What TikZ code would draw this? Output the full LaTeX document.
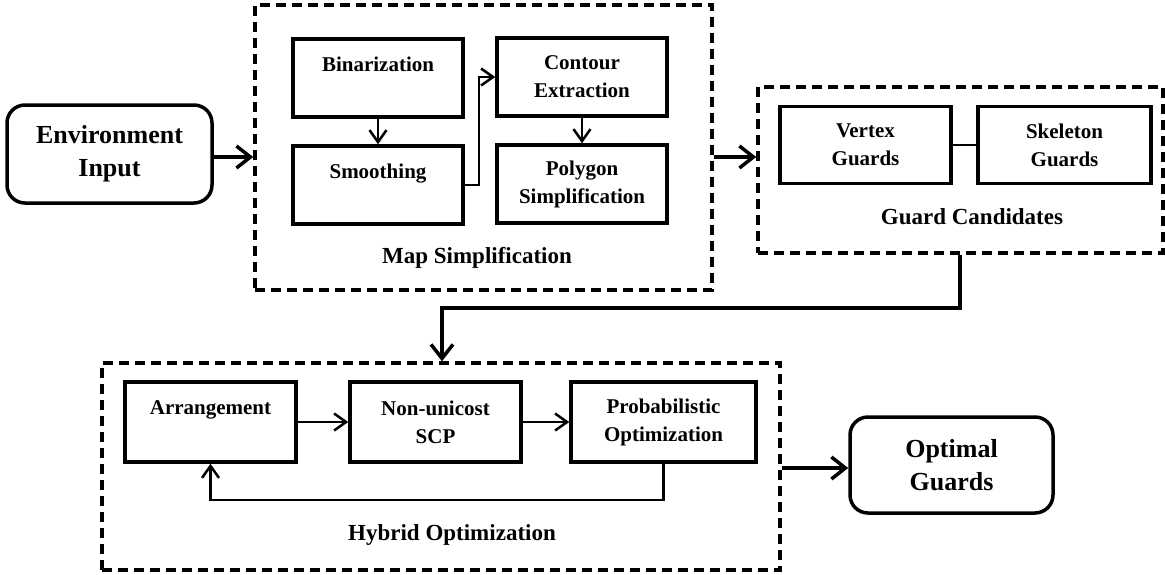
\documentclass[tikz,border=0pt]{standalone}
\usepackage{fontspec}
\setmainfont{Liberation Serif}
\usetikzlibrary{arrows.meta,calc}

\begin{document}
\begin{tikzpicture}[x=1pt,y=-1pt,
  box/.style={draw, line width=3.5pt, inner sep=0pt, align=center,
    font=\bfseries\fontsize{21}{28}\selectfont},
  term/.style={draw, line width=3.5pt, rounded corners=18pt, inner sep=0pt,
    align=center, font=\bfseries\fontsize{26}{33}\selectfont},
  group/.style={draw, line width=3.5pt, dash pattern=on 10pt off 6pt, inner sep=0pt},
  grouplabel/.style={font=\bfseries\fontsize{23}{28}\selectfont},
  bigarrow/.style={line width=3.5pt, -{Straight Barb[length=14pt,width=22pt]}},
  smallarrow/.style={line width=2.5pt, -{Straight Barb[length=12pt,width=17pt]}},
]
\useasboundingbox (0,0) rectangle (1165,574);

% terminals
\node[term, minimum width=205pt, minimum height=98pt] (env) at (109.5,154) {Environment\\Input};
\node[term, minimum width=203pt, minimum height=96pt] (opt) at (951.5,465) {Optimal\\Guards};

% map simplification stage
\node[group, minimum width=457pt, minimum height=285pt] (map) at (483.5,147.5) {};
\node[box, minimum width=170pt, minimum height=78pt] (bin) at (378,78) {Binarization\\\mbox{}};
\node[box, minimum width=170pt, minimum height=78pt] (smo) at (378,185) {Smoothing\\\mbox{}};
\node[box, minimum width=170pt, minimum height=78pt] (con) at (582,77) {Contour\\Extraction};
\node[box, minimum width=170pt, minimum height=78pt] (pol) at (582,184) {Polygon\\Simplification};
\node[grouplabel] (maplbl) at (477,258) {Map Simplification};

% guard candidates stage
\node[group, minimum width=405pt, minimum height=166pt] (gc) at (960.5,170) {};
\node[box, minimum width=171pt, minimum height=77pt] (vg) at (865.5,145) {Vertex\\Guards};
\node[box, minimum width=173pt, minimum height=77pt] (sg) at (1064.5,145) {Skeleton\\Guards};
\node[grouplabel] (gclbl) at (972,217) {Guard Candidates};

% hybrid optimization stage
\node[group, minimum width=678pt, minimum height=207pt] (hyb) at (441,466.5) {};
\node[box, minimum width=171pt, minimum height=80pt] (arr) at (210.5,422) {Arrangement\\\mbox{}};
\node[box, minimum width=171pt, minimum height=80pt] (scp) at (435.5,422) {Non-unicost\\SCP};
\node[box, minimum width=185pt, minimum height=80pt] (prob) at (663.5,422) {Probabilistic\\Optimization};
\node[grouplabel] (hyblbl) at (452,535) {Hybrid Optimization};

% stage-to-stage flow
\draw[bigarrow] (env.east |- 0,157) -- (map.west |- 0,157);
\draw[bigarrow] (map.east |- 0,157) -- (gc.west |- 0,157);
\coordinate (elbow) at (442,308);
\draw[bigarrow] (gc.south -| 960,0) |- (elbow) -- (elbow |- hyb.north);
\draw[bigarrow] (hyb.east |- 0,468) -- (opt.west |- 0,468);

% steps inside the stages
\draw[smallarrow] (bin.south) -- (smo.north);
\draw[smallarrow] (smo.east) -- ++(14,0) |- (con.west);
\draw[smallarrow] (con.south) -- (pol.north);
\draw[line width=2.5pt] (vg.east) -- (sg.west);
\draw[smallarrow] (arr.east) -- (scp.west);
\draw[smallarrow] (scp.east) -- (prob.west);
\draw[smallarrow] (prob.south) -- ++(0,36) -| (arr.south);
\end{tikzpicture}
\end{document}
